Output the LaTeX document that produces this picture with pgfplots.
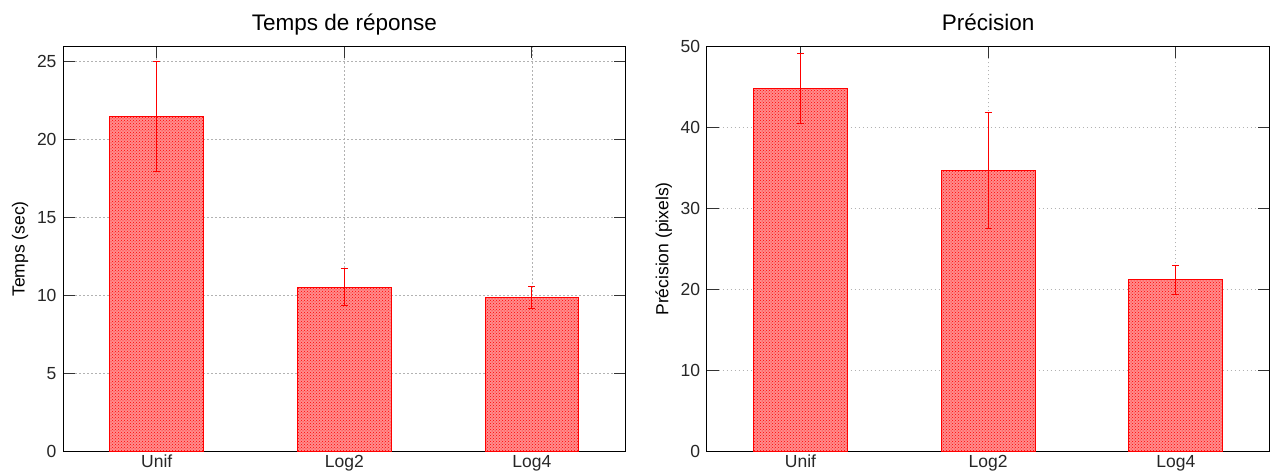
\documentclass[border=0pt]{standalone}
\usepackage{fontspec}
\setmainfont{Liberation Sans}
\usepackage{pgfplots}
\usepackage{pgfplotstable}
\pgfplotsset{compat=1.18}
\usetikzlibrary{patterns}

\pgfplotstableread{
x y err
0 21.48 3.54
1 10.54 1.19
2 9.90 0.72
}\tempsdata

\pgfplotstableread{
x y err
0 44.85 4.30
1 34.70 7.15
2 21.20 1.80
}\precdata

\pgfplotsset{
  gnu/.style={
    scale only axis,
    anchor=south west,
    xmin=-0.5, xmax=2.5, ymin=0,
    xtick={0,1,2},
    xticklabels={Unif,Log2,Log4},
    tick align=inside,
    tick pos=both,
    major tick length=12pt,
    every tick/.style={black!80, line width=0.9pt},
    axis line style={black, line width=1pt},
    grid=major,
    major grid style={gray!60, line width=0.8pt, dash pattern=on 1.5pt off 2.5pt},
    tick label style={font=\fontsize{17.5}{17.5}\selectfont, text=black!85},
    yticklabel style={xshift=-3pt},
    /pgf/number format/assume math mode=true,
    every axis y label/.style={at={(axis description cs:0,0.5)}, xshift=-43pt, rotate=90, anchor=center, font=\fontsize{17.5}{17.5}\selectfont},
    every axis title/.style={at={(axis description cs:0.5,1)}, anchor=base, yshift=16pt, font=\fontsize{22.5}{22.5}\selectfont},
  },
  gnubar/.style={
    ybar, bar width=0.5, bar shift=0pt,
    draw=red, line width=1pt, fill=red!45,
    postaction={pattern=crosshatch dots, pattern color=red},
    error bars/.cd, y dir=both, y explicit,
    error mark=|,
    error bar style={red, line width=1pt},
    error mark options={red, mark size=3.5pt, line width=1pt},
  },
}

\begin{document}
\begin{tikzpicture}[x=1pt,y=1pt]
\path[use as bounding box] (0,0) rectangle (1272,473);
\begin{axis}[gnu, at={(63pt,21.3pt)}, width=562.7pt, height=405.5pt,
  ymax=26, ytick={0,5,10,15,20,25},
  title={Temps de réponse}, ylabel={Temps (sec)}]
\addplot[gnubar] table[x=x, y=y, y error=err]{\tempsdata};
\end{axis}
\begin{axis}[gnu, at={(706.7pt,21.5pt)}, width=563pt, height=405pt,
  ymax=50, ytick={0,10,20,30,40,50},
  title={Précision}, ylabel={Précision (pixels)}]
\addplot[gnubar] table[x=x, y=y, y error=err]{\precdata};
\end{axis}
\end{tikzpicture}
\end{document}
